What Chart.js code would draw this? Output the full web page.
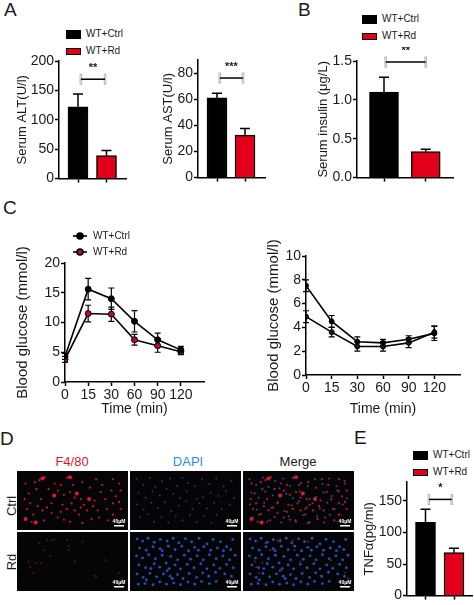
<!DOCTYPE html>
<html>
<head>
<meta charset="utf-8">
<title>Serum and glucose panels</title>
<script src="https://cdn.jsdelivr.net/npm/chart.js@4"></script>
<style>
  html, body { margin: 0; padding: 0; background: #fff; }
  body { position: relative; width: 474px; height: 605px; overflow: hidden; font-family: "Liberation Sans", Arial, sans-serif; color: #1a1a1a; }
  canvas { position: absolute; }
  .t { position: absolute; white-space: nowrap; line-height: 1; }
  .letter { font-size: 19px; }
  .leg { font-size: 10px; }
  .sw { position: absolute; box-sizing: border-box; }
  .head { font-size: 13px; transform: translateX(-50%); }
  .side { font-size: 13px; transform: translate(-50%, -50%) rotate(-90deg); }
</style>
</head>
<body>
<script>
// ---- data ----
const groups = ["WT+Ctrl", "WT+Rd"];
const altMean = [122, 39];
const altErr = [22, 9];
const astMean = [61, 32.5];
const astErr = [3.5, 5];
const insulinMean = [1.1, 0.335];
const insulinErr = [0.19, 0.03];
const tnfMean = [116, 68];
const tnfErr = [21, 7];

const timeLabels = ["0", "15", "30", "60", "90", "120"];
const ogttCtrl = [4.3, 15.6, 14, 10.2, 7.1, 5.4];
const ogttCtrlErr = [0.5, 1.8, 1.8, 1.8, 1.1, 0.6];
const ogttRd = [3.8, 11.5, 11.4, 7.1, 6.1, 5.1];
const ogttRdErr = [0.5, 1.4, 1.2, 0.9, 1.1, 0.5];
const ittCtrl = [7.5, 4.5, 2.8, 2.7, 3.0, 3.5];
const ittCtrlErr = [0.5, 0.5, 0.4, 0.3, 0.3, 0.6];
const ittRd = [4.9, 3.6, 2.4, 2.4, 2.7, 3.6];
const ittRdErr = [0.5, 0.4, 0.4, 0.4, 0.4, 0.5];

// stained cells as seen in the micrographs, x 0-336 and y 0-180 across one image
const f4CtrlBig = [[182,65],[222,85],[70,12],[108,72],[48,168],[15,155],[160,8]];
const f4Ctrl = [[60,18],[78,8],[150,10],[200,25],[245,15],[265,35],[300,15],[320,30],[30,100],[55,110],[85,115],[135,105],[165,100],[195,115],[215,125],[250,125],[280,120],[300,100],[240,90],[275,85],[310,75],[140,70],[160,60],[90,50],[50,50],[25,65],[15,30],[45,25],[110,30],[130,35],[170,35],[225,45],[260,60],[295,55],[325,55],[75,160],[100,135],[120,150],[140,158],[160,165],[200,170],[230,155],[255,150],[190,140],[70,125],[40,140],[20,120],[300,140],[325,120],[175,80],[205,105],[100,100],[195,85],[120,55],[65,85],[35,165],[285,160],[130,130],[175,125],[235,110],[150,120],[320,95],[12,85]];
const dapiCtrl = [[8,14],[30,35],[52,10],[70,42],[92,22],[118,12],[140,38],[158,10],[176,28],[198,40],[222,15],[246,32],[268,12],[292,40],[318,20],[14,62],[38,80],[60,58],[84,72],[106,48],[128,66],[150,82],[172,58],[205,84],[225,78],[250,62],[276,74],[300,58],[326,82],[10,104],[32,122],[56,98],[78,116],[100,96],[122,128],[146,108],[170,92],[190,120],[214,100],[238,118],[262,98],[286,120],[312,104],[20,150],[46,138],[66,165],[90,148],[112,168],[136,146],[158,160],[182,142],[204,166],[228,146],[252,168],[270,140]];
const f4Rd = [[100,15],[110,12],[150,15],[155,50],[75,50],[50,95],[65,95],[25,90],[95,70],[175,90],[240,140],[245,145],[320,130],[330,150],[85,15],[60,25],[275,85],[200,20],[40,130],[30,110],[155,35]];
const dapiRd = [[10,10],[28,18],[46,8],[66,22],[86,12],[108,18],[128,8],[146,24],[168,10],[188,20],[212,8],[238,28],[258,12],[282,20],[302,38],[322,12],[18,42],[40,50],[62,38],[85,45],[92,52],[112,36],[134,48],[156,36],[178,52],[198,40],[210,50],[228,38],[250,50],[272,42],[292,52],[316,48],[8,70],[28,78],[48,66],[70,80],[92,68],[105,95],[120,72],[142,84],[164,68],[184,82],[206,70],[226,84],[246,66],[268,80],[290,70],[312,84],[330,68],[16,102],[38,112],[55,115],[66,98],[84,110],[115,115],[108,122],[134,102],[152,116],[174,100],[196,112],[218,98],[238,116],[260,102],[280,114],[302,100],[324,112],[10,134],[30,146],[40,155],[52,132],[74,144],[96,134],[125,150],[118,142],[142,136],[160,150],[180,132],[204,146],[224,130],[244,142],[266,128],[296,134],[318,142],[14,170],[36,168],[62,172],[84,162],[106,170],[130,166],[152,172],[176,162],[198,170],[220,160],[246,168],[268,160]];

// ---- drawing helpers ----
const FONT = "Liberation Sans";
const INK = "#1a1a1a";

function addText(text, x, y, cls, color) {
  const d = document.createElement("div");
  d.className = "t " + cls;
  d.textContent = text;
  d.style.left = x + "px";
  d.style.top = y + "px";
  if (color) d.style.color = color;
  document.body.appendChild(d);
}

function barLegend(x, y1, y2) {
  [[y1, "#000"], [y2, "#e2001a"]].forEach(function (r, i) {
    const s = document.createElement("div");
    s.className = "sw";
    s.style.cssText = "left:" + x + "px;top:" + r[0] + "px;width:15px;height:" + (i ? 7 : 9) + "px;background:" + r[1] + ";border:1px solid #000";
    document.body.appendChild(s);
    addText(groups[i], x + 20, r[0] + (i ? -2 : -1), "leg");
  });
}

// error bars are pulled from the dataset, upward only on bars, both ways on lines
const errorBars = {
  id: "errorBars",
  beforeDatasetsDraw(chart) {
    const ctx = chart.ctx;
    chart.data.datasets.forEach(function (ds, d) {
      if (!ds.err) return;
      const meta = chart.getDatasetMeta(d);
      const isLine = ds.type === "line";
      ctx.save();
      ctx.strokeStyle = "#000";
      ctx.lineWidth = isLine ? 1.2 : 1.5;
      meta.data.forEach(function (el, i) {
        const y = chart.scales.y;
        const top = y.getPixelForValue(ds.data[i].y + ds.err[i]);
        const bottom = isLine ? y.getPixelForValue(ds.data[i].y - ds.err[i]) : el.y;
        const c = isLine ? 3 : 5;
        ctx.beginPath();
        ctx.moveTo(el.x, bottom);
        ctx.lineTo(el.x, top);
        ctx.moveTo(el.x - c, top);
        ctx.lineTo(el.x + c, top);
        if (isLine) {
          ctx.moveTo(el.x - c, bottom);
          ctx.lineTo(el.x + c, bottom);
        }
        ctx.stroke();
      });
      ctx.restore();
    });
  }
};

// significance bracket: black bar with pale grey end caps and stars above
const sigBracket = {
  id: "sigBracket",
  afterDatasetsDraw(chart, args, o) {
    if (!o.stars) return;
    const ctx = chart.ctx;
    const y = chart.scales.y.getPixelForValue(o.y);
    const x1 = chart.scales.x.getPixelForValue(o.from);
    const x2 = chart.scales.x.getPixelForValue(o.to);
    ctx.save();
    ctx.strokeStyle = "#b5b5b5";
    ctx.lineWidth = 1;
    [x1, x2].forEach(function (x) { ctx.strokeRect(x - 0.8, y - 5, 1.6, 10); });
    ctx.strokeStyle = "#000";
    ctx.lineWidth = 1.5;
    ctx.beginPath();
    ctx.moveTo(x1, y);
    ctx.lineTo(x2, y);
    ctx.stroke();
    ctx.fillStyle = INK;
    ctx.font = "bold 11px '" + FONT + "'";
    ctx.textAlign = "center";
    ctx.fillText(o.stars, (x1 + x2) / 2, y - 8);
    ctx.restore();
  }
};

// puts the plot area of a chart exactly at left/top/right/bottom of the page
function axisChart(p, config) {
  const c = document.createElement("canvas");
  const ml = p.ml, mt = p.mt, mr = 3, mb = p.mb;
  c.style.left = (p.left - ml) + "px";
  c.style.top = (p.top - mt) + "px";
  c.width = p.right - p.left + ml + mr;
  c.height = p.bottom - p.top + mt + mb;
  document.body.appendChild(c);
  config.options = Object.assign({
    responsive: false,
    animation: false,
    layout: { padding: { top: mt, right: mr } }
  }, config.options);
  config.options.plugins = Object.assign({ legend: { display: false }, tooltip: { enabled: false } }, config.options.plugins);
  config.options.scales.y.afterFit = function (s) { s.width = ml; };
  config.options.scales.x.afterFit = function (s) { s.height = mb; };
  config.plugins = [errorBars, sigBracket];
  return new Chart(c, config);
}

function yAxis(max, step, title, titleSize, tickCb) {
  return {
    min: 0,
    max: max,
    border: { color: "#000", width: 1.5 },
    grid: { drawOnChartArea: false, color: "#000", tickColor: "#000", tickLength: 4, tickWidth: 1.5 },
    afterBuildTicks: function (s) {
      const t = [];
      for (let v = 0; v <= max + 1e-9; v += step) t.push({ value: v });
      s.ticks = t;
    },
    ticks: { color: INK, padding: 1, font: { family: FONT, size: 14 }, callback: tickCb || function (v) { return v; } },
    title: { display: true, text: title, color: INK, align: "center", padding: { top: 0, bottom: 0 }, font: { family: FONT, size: titleSize } }
  };
}

function barPanel(p, mean, err, title, sig) {
  const unit = p.c2 - p.c1;
  axisChart(p, {
    type: "bar",
    data: {
      datasets: [{
        err: err,
        data: mean.map(function (v, i) { return { x: i + 1, y: v }; }),
        backgroundColor: ["#000", "#e2001a"],
        borderColor: "#000",
        borderWidth: 1.5,
        barThickness: p.barW
      }]
    },
    options: {
      plugins: { sigBracket: sig },
      scales: {
        y: yAxis(p.max, p.step, title, 13, p.tickCb),
        x: {
          type: "linear",
          offset: false,
          min: 1 - (p.c1 - p.left) / unit,
          max: 1 + (p.right - p.c1) / unit,
          border: { color: "#000", width: 1.5 },
          grid: { offset: false, drawOnChartArea: false, color: "#000", tickLength: 4, tickWidth: 1.5 },
          afterBuildTicks: function (s) { s.ticks = mean.map(function (v, i) { return { value: i + 1 }; }); },
          ticks: { color: "transparent", font: { size: 1 }, callback: function () { return ""; } }
        }
      }
    }
  });
}

function linePanel(p, title, s1, e1, s2, e2, rdColor) {
  const toXY = function (a) { return a.map(function (v, i) { return { x: i, y: v }; }); };
  const line = function (a, e, fill) {
    return { type: "line", err: e, data: toXY(a), borderColor: "#000", borderWidth: 1.6, pointRadius: p.r, pointBorderColor: "#000", pointBorderWidth: 1, pointBackgroundColor: fill, tension: 0 };
  };
  axisChart(p, {
    type: "line",
    data: { datasets: [line(s1, e1, "#000"), line(s2, e2, rdColor)] },
    options: {
      scales: {
        y: yAxis(p.max, p.step, title, 15),
        x: {
          type: "linear",
          min: 0,
          max: 6,
          border: { color: "#000", width: 1.5 },
          grid: { drawOnChartArea: false, color: "#000", tickLength: 4, tickWidth: 1.5 },
          afterBuildTicks: function (s) { s.ticks = timeLabels.map(function (v, i) { return { value: i }; }); },
          ticks: { color: INK, padding: 1, maxRotation: 0, font: { family: FONT, size: 14 }, callback: function (v) { return timeLabels[v]; } },
          title: { display: true, text: "Time (min)", color: INK, padding: { top: 6, bottom: 0 }, font: { family: FONT, size: 14 } }
        }
      }
    }
  });
}

// one micrograph: black plate, stained cells as a scatter, slightly soft like the photo
function cellPanel(x, y, w, h, layers) {
  const c = document.createElement("canvas");
  c.style.left = x + "px";
  c.style.top = y + "px";
  c.style.filter = "blur(0.5px)";
  c.width = w;
  c.height = h;
  document.body.appendChild(c);
  new Chart(c, {
    type: "scatter",
    data: {
      datasets: layers.map(function (l) {
        return { data: l.pts.map(function (q) { return { x: q[0], y: q[1] }; }), pointRadius: l.r, pointBorderWidth: 0, backgroundColor: l.color };
      })
    },
    options: {
      responsive: false,
      animation: false,
      plugins: { legend: { display: false }, tooltip: { enabled: false } },
      scales: {
        x: { display: false, min: 0, max: 336 },
        y: { display: false, min: 0, max: 180, reverse: true }
      }
    },
    plugins: [{
      id: "plate",
      beforeDatasetsDraw(chart) {
        chart.ctx.fillStyle = "#050507";
        chart.ctx.fillRect(0, 0, w, h);
      },
      afterDatasetsDraw(chart) {
        const ctx = chart.ctx;
        ctx.fillStyle = "#fff";
        ctx.fillRect(w - 14, h - 5, 10, 1.5);
        ctx.font = "bold 5px '" + FONT + "'";
        ctx.textAlign = "center";
        ctx.fillText("40μM", w - 9, h - 7);
      }
    }]
  });
}

// ---- page ----
addText("A", 4, 0, "letter");
addText("B", 298, 0, "letter");
addText("C", 3, 198, "letter");
addText("D", 0, 429, "letter");
addText("E", 354, 428, "letter");

barLegend(66, 30, 48);
barLegend(362, 15, 33);
barLegend(413, 451, 469);

barPanel({ left: 59, top: 61, right: 126, bottom: 180, c1: 78, c2: 106.5, barW: 20, max: 200, step: 50, ml: 44, mt: 10, mb: 8 },
  altMean, altErr, "Serum ALT(U/l)", { stars: "**", y: 169, from: 1.1, to: 1.95 });
barPanel({ left: 198, top: 60, right: 265, bottom: 179, c1: 217, c2: 245, barW: 20, max: 90, step: 20, ml: 37, mt: 10, mb: 8 },
  astMean, astErr, "Serum AST(U/l)", { stars: "***", y: 76.2, from: 1.1, to: 1.93 });
barPanel({ left: 357, top: 61, right: 453, bottom: 179, c1: 384, c2: 425.7, barW: 29, max: 1.5, step: 0.5, ml: 41, mt: 14, mb: 8, tickCb: function (v) { return v.toFixed(1); } },
  insulinMean, insulinErr, "Serum insulin (μg/L)", { stars: "**", y: 1.487, from: 1.04, to: 2 });
barPanel({ left: 407, top: 482, right: 472, bottom: 600, c1: 425.5, c2: 454, barW: 20, max: 180, step: 50, ml: 45, mt: 10, mb: 5 },
  tnfMean, tnfErr, "TNFα(pg/ml)", { stars: "*", y: 152.4, from: 1.12, to: 1.92 });

linePanel({ left: 65, top: 263, right: 206, bottom: 382, max: 20, step: 5, ml: 51, mt: 30, mb: 36, r: 3 },
  "Blood glucose (mmol/l)", ogttCtrl, ogttCtrlErr, ogttRd, ogttRdErr, "#b0102a");
linePanel({ left: 306, top: 256, right: 462, bottom: 375, max: 10, step: 2, ml: 41, mt: 30, mb: 43, r: 2.5 },
  "Blood glucose (mmol/l)", ittCtrl, ittCtrlErr, ittRd, ittRdErr, "#3a0a12");

// legend of the glucose panel
const lineLegend = document.createElement("canvas");
lineLegend.style.left = "70px";
lineLegend.style.top = "228px";
lineLegend.width = 20;
lineLegend.height = 32;
document.body.appendChild(lineLegend);
new Chart(lineLegend, {
  type: "line",
  data: {
    datasets: [
      { data: [{ x: 3, y: 0 }, { x: 10, y: 0 }, { x: 17, y: 0 }], borderColor: "#000", borderWidth: 1.6, pointRadius: [0, 3, 0], pointBackgroundColor: "#000" },
      { data: [{ x: 3, y: 1 }, { x: 10, y: 1 }, { x: 17, y: 1 }], borderColor: "#000", borderWidth: 1.6, pointRadius: [0, 3, 0], pointBackgroundColor: "#b0102a", pointBorderColor: "#000" }
    ]
  },
  options: {
    responsive: false, animation: false,
    plugins: { legend: { display: false }, tooltip: { enabled: false } },
    layout: { padding: 0 },
    scales: {
      x: { type: "linear", display: false, min: 0, max: 20 },
      y: { display: false, min: -0.5, max: 1.5, reverse: true }
    }
  }
});
addText(groups[0], 93, 231, "leg");
addText(groups[1], 93, 247, "leg");

addText("F4/80", 72, 455, "head", "#e0182d");
addText("DAPI", 188, 455, "head", "#2f8fd8");
addText("Merge", 298, 455, "head");
addText("Ctrl", 11, 506, "side");
addText("Rd", 11, 562, "side");

const RED = "#d01428", DIMBLUE = "#1e3f8e", DIM = "#6a1220", DEEP = "#1f4fc0";
cellPanel(17, 471, 111, 59, [{ pts: f4Ctrl, r: 1.1, color: RED }, { pts: f4CtrlBig, r: 2, color: "#e8182c" }]);
cellPanel(130, 471, 111, 59, [{ pts: dapiCtrl, r: 0.9, color: DIMBLUE }]);
cellPanel(243, 471, 111, 59, [{ pts: dapiCtrl, r: 1, color: "#2450a8" }, { pts: f4Ctrl, r: 1.1, color: RED }, { pts: f4CtrlBig, r: 2, color: "#e8182c" }]);
cellPanel(17, 532, 111, 59, [{ pts: f4Rd, r: 0.9, color: DIM }]);
cellPanel(130, 532, 111, 59, [{ pts: dapiRd, r: 1.4, color: DEEP }]);
cellPanel(243, 532, 111, 59, [{ pts: dapiRd, r: 1.4, color: DEEP }, { pts: f4Rd, r: 0.9, color: "#a01828" }]);
</script>
</body>
</html>
